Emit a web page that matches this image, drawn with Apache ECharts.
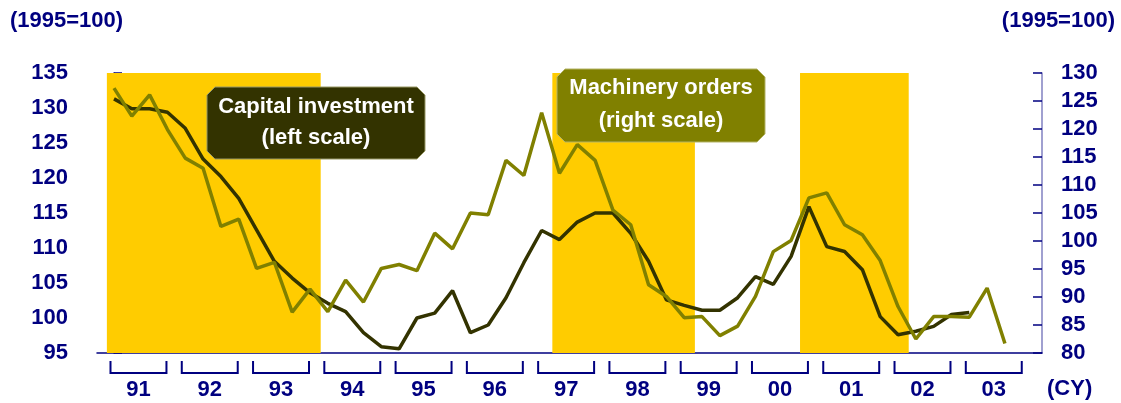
<!DOCTYPE html>
<html>
<head>
<meta charset="utf-8">
<script src="https://cdn.jsdelivr.net/npm/echarts@6/dist/echarts.min.js"></script>
<style>
  html, body { margin: 0; padding: 0; background: #fff; }
  #chart { width: 1121px; height: 403px; }
</style>
</head>
<body>
<div id="chart"></div>
<script>
// quarterly data, 1991Q1 onwards
var years = ["91", "92", "93", "94", "95", "96", "97", "98", "99", "00", "01", "02", "03"];

// capital investment (left scale), 91Q1 - 03Q1
var capitalInvestment = [
  131.3, 129.9, 129.9, 129.4, 127.1, 122.7, 120.2, 117.1, 112.6, 108.1, 105.7, 103.6,
  102.1, 100.9, 97.9, 95.9, 95.6, 100.0, 100.7, 103.9, 97.9, 99.0, 102.9, 107.9,
  112.5, 111.2, 113.7, 115.0, 115.0, 112.1, 108.1, 102.6, 101.8, 101.1, 101.1, 102.9,
  105.9, 104.8, 108.8, 115.9, 110.2, 109.5, 106.9, 100.2, 97.6, 98.1, 98.8, 100.5,
  100.8
];

// machinery orders (right scale), 91Q1 - 03Q3
var machineryOrders = [
  127.3, 122.3, 126.1, 119.9, 114.8, 113.0, 102.6, 103.9, 95.1, 96.2, 87.3, 91.4,
  87.4, 93.0, 89.1, 95.1, 95.8, 94.7, 101.4, 98.6, 105.0, 104.7, 114.4, 111.7,
  122.9, 112.1, 117.2, 114.4, 105.5, 102.9, 92.2, 90.1, 86.3, 86.5, 83.1, 84.8,
  90.1, 98.1, 100.1, 107.7, 108.6, 102.9, 101.1, 96.5, 88.3, 82.5, 86.5, 86.5,
  86.4, 91.6, 81.7
];

// shaded periods, in quarter index units (0 = 91Q1)
var shadedPeriods = [[-0.4, 11.6], [24.6, 32.6], [38.5, 44.6]];

var leftTicks = { min: 95, max: 135, interval: 5 };
var rightTicks = { min: 80, max: 130, interval: 5 };

var NAVY = "#000080";
var FONT = "Arial, 'Liberation Sans', sans-serif";
var BIG = "bold 22px " + FONT;

function toPairs(arr) {
  return arr.map(function (v, i) { return [i, v]; });
}

var myChart = echarts.init(document.getElementById("chart"));

myChart.setOption({
  animation: false,
  grid: { left: 97, right: 79, top: 73, bottom: 50 },
  xAxis: {
    type: "value",
    min: -0.954,
    max: 52.08,
    axisLine: { show: true, lineStyle: { color: NAVY, width: 1.5 } },
    axisTick: { show: false },
    axisLabel: { show: false },
    splitLine: { show: false }
  },
  yAxis: [
    {
      type: "value",
      position: "left",
      min: leftTicks.min,
      max: leftTicks.max,
      interval: leftTicks.interval,
      axisLine: { show: true, lineStyle: { color: NAVY, width: 1.5 } },
      axisTick: { show: true, inside: true, length: 8, lineStyle: { color: NAVY, width: 1.5 } },
      axisLabel: { color: NAVY, fontFamily: FONT, fontWeight: "bold", fontSize: 22, margin: 29 },
      splitLine: { show: false }
    },
    {
      type: "value",
      position: "right",
      min: rightTicks.min,
      max: rightTicks.max,
      interval: rightTicks.interval,
      axisLine: { show: true, lineStyle: { color: "#8080c0", width: 1.5 } },
      axisTick: { show: true, inside: true, length: 9, lineStyle: { color: NAVY, width: 1.5 } },
      axisLabel: { color: NAVY, fontFamily: FONT, fontWeight: "bold", fontSize: 22, margin: 19 },
      splitLine: { show: false }
    }
  ],
  graphic: [
    { type: "text", left: 10, top: 10, style: { text: "(1995=100)", fill: NAVY, font: BIG } },
    { type: "text", right: 6, top: 10, style: { text: "(1995=100)", fill: NAVY, font: BIG } },
    { type: "text", left: 1047, top: 378, style: { text: "(CY)", fill: NAVY, font: BIG } },
    {
      type: "polygon",
      z: 50,
      shape: { points: [[215, 87], [417, 87], [425, 95], [425, 151], [417, 159], [215, 159], [207, 151], [207, 95]] },
      style: { fill: "#333300", stroke: "#999966", lineWidth: 1 }
    },
    {
      type: "text", z: 51, x: 316, y: 122,
      style: { text: "Capital investment\n(left scale)", fill: "#fff", font: BIG,
               align: "center", verticalAlign: "middle", lineHeight: 31 }
    },
    {
      type: "polygon",
      z: 50,
      shape: { points: [[565, 69], [757, 69], [765, 77], [765, 134], [757, 142], [565, 142], [557, 134], [557, 77]] },
      style: { fill: "#808000", stroke: "#b3b366", lineWidth: 1 }
    },
    {
      type: "text", z: 51, x: 661, y: 104,
      style: { text: "Machinery orders\n(right scale)", fill: "#fff", font: BIG,
               align: "center", verticalAlign: "middle", lineHeight: 33 }
    }
  ],
  series: [
    {
      name: "Capital investment",
      type: "line",
      yAxisIndex: 0,
      data: toPairs(capitalInvestment),
      symbol: "none",
      lineStyle: { color: "#333300", width: 3.5 },
      z: 3,
      markArea: {
        silent: true,
        itemStyle: { color: "#ffcc00" },
        data: shadedPeriods.map(function (p) { return [{ xAxis: p[0] }, { xAxis: p[1] }]; })
      }
    },
    {
      name: "Machinery orders",
      type: "line",
      yAxisIndex: 1,
      data: toPairs(machineryOrders),
      symbol: "none",
      lineStyle: { color: "#808000", width: 3.5 },
      z: 4
    },
    {
      // year brackets and labels under the axis
      type: "custom",
      yAxisIndex: 0,
      clip: false,
      silent: true,
      data: years.map(function (y, k) { return [k * 4, leftTicks.min]; }),
      renderItem: function (params, api) {
        var k = params.dataIndex;
        var start = api.coord([k * 4, leftTicks.min]);
        var end = api.coord([k * 4 + 3, leftTicks.min]);
        var x0 = start[0] - 3.5, x1 = end[0] - 1;
        var base = start[1];
        return {
          type: "group",
          children: [
            {
              type: "polyline",
              shape: { points: [[x0, base + 8], [x0, base + 20], [x1, base + 20], [x1, base + 8]] },
              style: { stroke: NAVY, lineWidth: 2, fill: null }
            },
            {
              type: "text",
              style: { text: years[k], x: (x0 + x1) / 2, y: base + 37, fill: NAVY,
                       font: BIG, align: "center", verticalAlign: "middle" }
            }
          ]
        };
      },
      z: 5
    }
  ]
});

window.addEventListener("resize", function () {
  myChart.resize();
});
</script>
</body>
</html>
